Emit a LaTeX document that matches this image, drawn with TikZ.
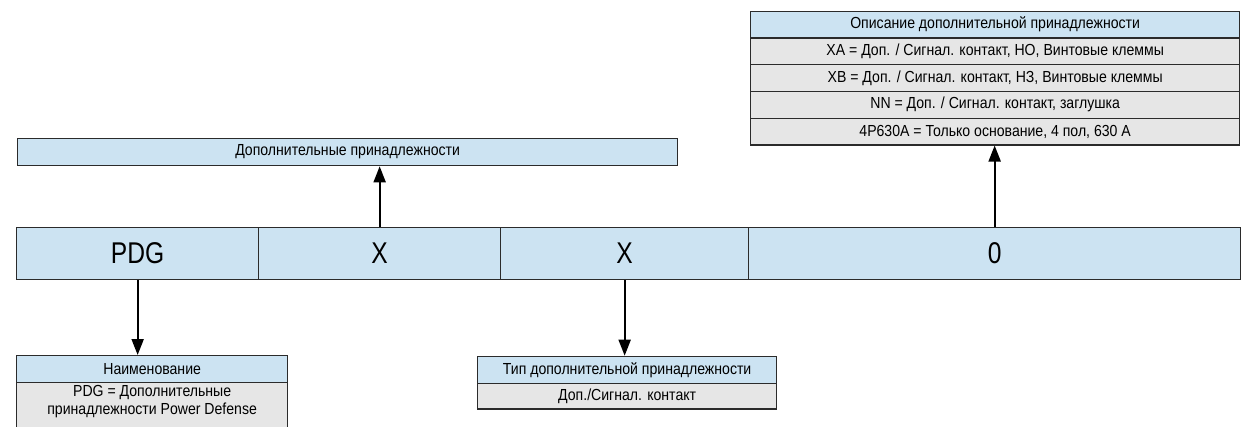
\documentclass[tikz,border=0pt]{standalone}
\usepackage{fontspec}
\setmainfont{Liberation Sans}[FakeStretch=0.88]
\newfontfamily\bigfont{Liberation Sans}[FakeStretch=0.82]
\usetikzlibrary{arrows.meta}
\definecolor{hdr}{HTML}{CCE3F2}
\definecolor{rowgray}{HTML}{E6E6E6}
\definecolor{edge}{HTML}{2B2B2B}
\tikzset{
 cell/.style={draw=edge, line width=1.3pt, fill=hdr, inner sep=0pt, anchor=north west, font=\bigfont\fontsize{30}{32}\selectfont},
 hbox/.style={draw=edge, line width=1.3pt, fill=hdr, inner sep=0pt, anchor=north west, font=\fontsize{16}{18}\selectfont},
 rbox/.style={hbox, fill=rowgray},
 txt/.style={inner sep=0pt, align=center, font=\fontsize{16}{18}\selectfont},
 arr/.style={line width=2pt, -{Triangle[width=12pt,length=16pt]}}
}
\begin{document}
\begin{tikzpicture}[x=1pt,y=-1pt]
\clip (0,0) rectangle (1243,426);
\fill[white] (0,0) rectangle (1243,426);
% main bar
\node[cell, minimum width=242pt, minimum height=52pt] (pdg) at (16,227) {PDG};
\node[cell, minimum width=242pt, minimum height=52pt] (xa) at (258,227) {X};
\node[cell, minimum width=248pt, minimum height=52pt] (xb) at (500,227) {X};
\node[cell, minimum width=492pt, minimum height=52pt] (zero) at (748,227) {0};
% top left box
\node[hbox, minimum width=660pt, minimum height=27pt] (acc) at (17,138) {Дополнительные принадлежности};
% top right table
\node[hbox, minimum width=489pt, minimum height=26.7pt] (desc) at (750,10.7) {Описание дополнительной принадлежности};
\node[rbox, minimum width=489pt, minimum height=26.7pt] (d1) at (750,37.4) {XA = Доп. / Сигнал. контакт, НО, Винтовые клеммы};
\node[rbox, minimum width=489pt, minimum height=26.7pt] (d2) at (750,64.1) {XB = Доп. / Сигнал. контакт, НЗ, Винтовые клеммы};
\node[rbox, minimum width=489pt, minimum height=26.7pt] (d3) at (750,90.8) {NN = Доп. / Сигнал. контакт, заглушка};
\node[rbox, minimum width=489pt, minimum height=26.7pt] (d4) at (750,117.5) {4P630A = Только основание, 4 пол, 630 A};
% bottom left table
\node[hbox, minimum width=271pt, minimum height=26.7pt] (name) at (16,355) {Наименование};
\node[rbox, minimum width=271pt, minimum height=60pt] (namebody) at (16,381.7) {};
\node[txt] (nametext) at ([yshift=-20pt]namebody.north) {PDG = Дополнительные\\принадлежности Power Defense};
% bottom middle table
\node[hbox, minimum width=299pt, minimum height=27pt] (type) at (477,355.7) {Тип дополнительной принадлежности};
\node[rbox, minimum width=299pt, minimum height=25.6pt] (type1) at (477,382.7) {Доп./Сигнал. контакт};
% arrows
\draw[arr] (xa.north) -- (xa.north |- acc.south);
\draw[arr] (zero.north) -- (zero.north |- d4.south);
\draw[arr] (pdg.south) -- (pdg.south |- name.north);
\draw[arr] (xb.south) -- (xb.south |- type.north);
\end{tikzpicture}
\end{document}
